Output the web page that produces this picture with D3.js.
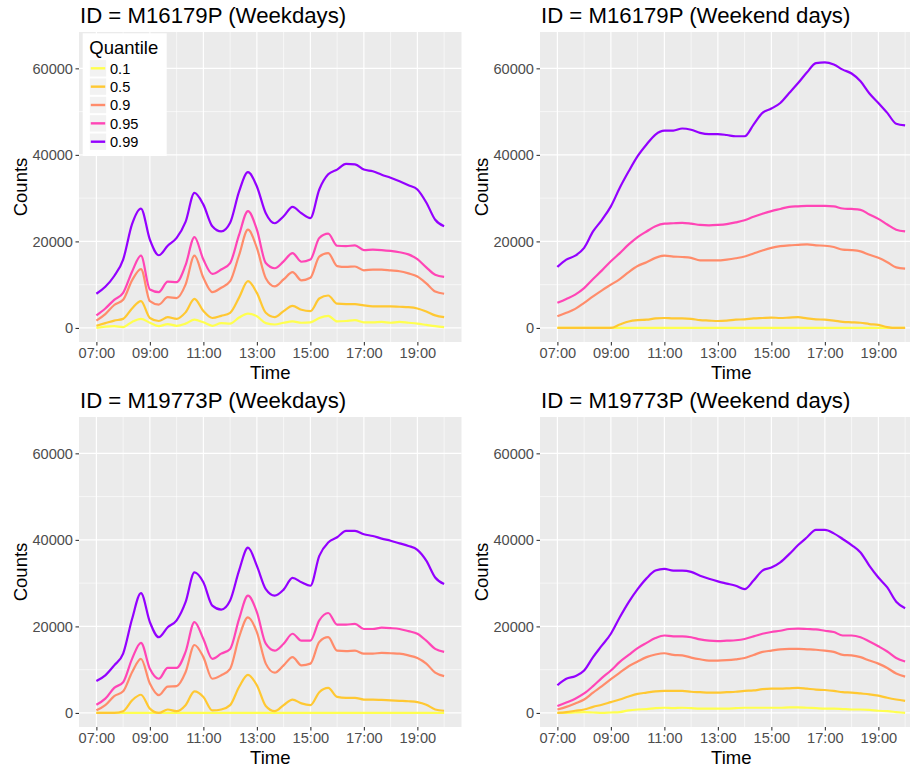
<!DOCTYPE html>
<html><head><meta charset="utf-8">
<script src="https://cdn.jsdelivr.net/npm/d3@7"></script>
<style>
body{margin:0;background:#fff}
svg{display:block}
text{font-family:"Liberation Sans",Arial,Helvetica,sans-serif}
</style>
</head><body>
<svg id="chart" width="910" height="768"></svg>
<script>
// ---------- DATA ----------
const times = ["07:00","07:20","07:40","08:00","08:20","08:40","09:00","09:20","09:40","10:00",
  "10:20","10:40","11:00","11:20","11:40","12:00","12:20","12:40","13:00","13:20",
  "13:40","14:00","14:20","14:40","15:00","15:20","15:40","16:00","16:20","16:40",
  "17:00","17:20","17:40","18:00","18:20","18:40","19:00","19:20","19:40","20:00"];
const quantiles = ["0.1","0.5","0.9","0.95","0.99"];
const xTickLabels = ["07:00","09:00","11:00","13:00","15:00","17:00","19:00"];
const xMinorLabels = ["08:00","10:00","12:00","14:00","16:00","18:00","20:00"];
const yTicks = [0,20000,40000,60000];
const yMinor = [10000,30000,50000];
const panelTitles = ["ID = M16179P (Weekdays)","ID = M16179P (Weekend days)",
  "ID = M19773P (Weekdays)","ID = M19773P (Weekend days)"];

// M16179P weekdays
const a10 = [0,300,400,200,1400,2100,1200,400,900,500,1000,1900,1300,500,1100,1000,2400,3300,2700,1100,800,1200,1500,1200,1300,2300,2800,1500,1600,1800,1300,1300,1400,1200,1400,1200,1000,700,400,200];
const a50 = [500,1100,1700,2100,4500,6200,2300,1600,2500,2100,3600,6700,3900,2300,2800,3500,7000,10800,8100,3500,2500,3900,5100,4200,3900,6800,7500,5600,5500,5500,5200,5000,5000,5000,4900,4800,4500,3800,2900,2500];
const a90 = [1700,3200,5300,6500,11000,13600,6200,5400,7100,6900,10000,16700,11600,8300,9300,10800,16800,22700,18500,11500,9600,11200,12900,11000,11600,16500,17300,14300,14100,14200,13300,13500,13500,13300,13100,12600,11900,10300,8400,7900];
const a95 = [2900,4500,6500,8100,13000,16700,8900,8300,10700,10600,14500,21000,15800,12500,13500,15000,21500,27000,22700,15000,13800,15400,17300,15300,15800,20800,21800,19000,18900,19100,18000,18100,18000,17800,17500,17000,15900,14000,12300,11800];
const a99 = [7900,9500,12000,15800,24000,27600,20400,16800,19000,20800,24500,31200,28500,23500,22300,24300,31500,36000,32700,26500,24200,25800,28000,26500,25400,32000,35500,36600,37900,37800,36600,36200,35400,34700,33900,33000,32000,29000,25000,23500];

// M16179P weekend days
const b10 = [0,0,0,0,0,0,0,0,0,0,0,0,0,0,0,0,0,0,0,0,0,0,0,0,0,0,0,0,0,0,0,0,0,0,0,0,0,0,0,0];
const b50 = [0,0,0,0,0,0,0,800,1500,1800,1900,2200,2300,2200,2200,2100,1800,1700,1600,1700,1900,2000,2200,2300,2400,2300,2400,2500,2200,2000,1900,1700,1400,1300,1200,900,700,200,0,0];
const b90 = [2700,3500,4400,5800,7300,8700,10000,11300,12900,14300,15200,16200,16700,16500,16400,16200,15600,15600,15600,15800,16100,16500,17200,17900,18500,18900,19100,19200,19300,19100,19000,18700,18100,18000,17700,16900,16200,15200,14000,13700];
const b95 = [5800,6700,7700,9200,11300,13300,15400,17300,19300,21000,22300,23500,24100,24200,24300,24100,23800,23700,23800,24000,24400,24900,25700,26400,27000,27500,28000,28100,28200,28200,28200,28100,27600,27500,27300,26200,25200,23900,22700,22300];
const b99 = [14100,15800,16700,18500,22300,25000,28100,32400,36200,39700,42400,44700,45600,45600,46100,45800,45100,44800,44800,44600,44300,44300,47000,49700,50700,52000,54300,56600,59100,61200,61400,60900,59700,58800,57000,54200,52000,49700,47200,46800];

// M19773P weekdays
const c10 = [0,0,0,0,0,0,0,0,0,0,0,0,0,0,0,0,0,0,0,0,0,0,0,0,0,0,0,0,0,0,0,0,0,0,0,0,0,0,0,0];
const c50 = [0,0,0,400,2900,4200,1000,0,800,400,1800,5000,3700,600,800,1800,6000,8800,6400,1600,400,1800,3100,2200,1800,4800,5800,3700,3500,3500,3100,3100,3000,2900,2800,2700,2500,1900,800,500];
const c90 = [600,1800,3900,5000,9400,12500,6800,4100,6100,6200,9400,15700,12900,7900,8700,10200,17500,22100,18700,11400,9300,11000,12900,11000,11400,16400,17500,14400,14300,14400,13700,13700,13900,13800,13700,13300,12700,11400,9300,8500];
const c95 = [1900,3300,5800,7100,12500,16200,10200,7900,10400,10400,14100,21000,17100,12500,13700,14800,21700,27100,23300,16000,14400,16000,18300,16700,16700,21400,23100,20400,20400,20600,19400,19400,19700,19600,19400,18900,18300,16700,14800,14100];
const c99 = [7400,8700,11000,13700,21700,27700,21000,17500,19800,21400,25600,32500,30200,24800,23900,26000,32900,38200,34000,28600,27100,28500,31200,30200,29400,36300,39400,40600,42100,42100,41300,40900,40300,39800,39200,38600,37700,35200,31300,29800];

// M19773P weekend days
const d10 = [0,0,100,200,100,0,100,200,600,800,900,1100,1200,1100,1200,1100,1000,1000,1000,1000,1100,1200,1200,1200,1200,1200,1300,1300,1200,1100,1000,1000,900,800,800,700,500,400,200,0];
const d50 = [0,200,500,800,1400,1900,2500,3100,3800,4400,4700,5000,5100,5100,5100,4900,4800,4700,4700,4800,4900,5100,5200,5500,5600,5600,5700,5800,5600,5400,5300,5100,4800,4700,4500,4300,4000,3500,3100,2800];
const d90 = [800,1400,2200,3100,4700,6200,7800,9300,10800,11900,12900,13500,13800,13400,13300,12800,12400,12100,12100,12200,12400,12700,13400,14100,14400,14700,14800,14800,14700,14600,14400,14100,13400,13300,12900,12100,11400,10400,9100,8400];
const d95 = [1600,2400,3300,4500,6200,8100,9800,11800,13400,15000,16200,17300,17900,17700,17700,17500,17000,16700,16600,16700,16800,17100,17700,18300,18700,19000,19400,19500,19400,19300,19000,18700,17900,17900,17500,16500,15400,14200,12700,11900];
const d99 = [6400,7900,8500,9800,12900,15600,18300,22100,25600,28600,31100,32900,33300,32900,32900,32600,31700,31000,30400,29900,29400,28600,30600,32900,33600,34800,36700,38800,40600,42300,42300,41500,40200,38800,37100,34000,31300,29000,25700,24200];

// ---------- STYLE ----------
const colors = ["#FFFF4F","#FFC832","#FF8C6B","#FF45B6","#9400FF"];

const panels = [
  {title: panelTitles[0], series: [a10,a50,a90,a95,a99], left: 79,  top: 32,  legend: true},
  {title: panelTitles[1], series: [b10,b50,b90,b95,b99], left: 540, top: 32,  legend: false},
  {title: panelTitles[2], series: [c10,c50,c90,c95,c99], left: 79,  top: 417, legend: false},
  {title: panelTitles[3], series: [d10,d50,d90,d95,d99], left: 540, top: 417, legend: false}
];

const W = 382.5, H = 310;
const parse = d3.timeParse("%H:%M");
const fmt = d3.timeFormat("%H:%M");
const tDates = times.map(parse);
const t0 = tDates[0], t1 = tDates[tDates.length - 1];
const pad = (t1 - t0) * 0.05;

const svg = d3.select("#chart");
svg.append("rect").attr("width", 910).attr("height", 768).attr("fill", "#fff");

panels.forEach(p => {
  const g = svg.append("g");
  const x = d3.scaleTime()
    .domain([new Date(+t0 - pad), new Date(+t1 + pad)])
    .range([p.left, p.left + W]);
  const y = d3.scaleLinear().domain([-3250, 68400]).range([p.top + H, p.top]);

  // panel background
  g.append("rect").attr("x", p.left).attr("y", p.top).attr("width", W).attr("height", H)
    .attr("fill", "#EBEBEB");

  // minor grid
  g.selectAll(".ymin").data(yMinor).enter().append("line")
    .attr("x1", p.left).attr("x2", p.left + W)
    .attr("y1", d => y(d)).attr("y2", d => y(d))
    .attr("stroke", "#fff").attr("stroke-width", 0.6);
  g.selectAll(".xmin").data(xMinorLabels.map(parse)).enter().append("line")
    .attr("y1", p.top).attr("y2", p.top + H)
    .attr("x1", d => x(d)).attr("x2", d => x(d))
    .attr("stroke", "#fff").attr("stroke-width", 0.6);
  // major grid
  g.selectAll(".ymaj").data(yTicks).enter().append("line")
    .attr("x1", p.left).attr("x2", p.left + W)
    .attr("y1", d => y(d)).attr("y2", d => y(d))
    .attr("stroke", "#fff").attr("stroke-width", 1.15);
  g.selectAll(".xmaj").data(xTickLabels.map(parse)).enter().append("line")
    .attr("y1", p.top).attr("y2", p.top + H)
    .attr("x1", d => x(d)).attr("x2", d => x(d))
    .attr("stroke", "#fff").attr("stroke-width", 1.15);

  // lines
  const line = d3.line()
    .x((d, i) => x(tDates[i]))
    .y(d => y(d))
    .curve(d3.curveMonotoneX);
  p.series.forEach((s, k) => {
    g.append("path").datum(s).attr("d", line)
      .attr("fill", "none").attr("stroke", colors[k])
      .attr("stroke-width", 2.2).attr("stroke-linejoin", "round");
  });

  // axes
  const ya = g.append("g").attr("transform", `translate(${p.left},0)`)
    .call(d3.axisLeft(y).tickValues(yTicks).tickSize(3.5).tickPadding(2.5).tickFormat(d3.format("d")));
  ya.select(".domain").remove();
  ya.selectAll(".tick line").attr("stroke", "#333").attr("stroke-width", 1.07);
  ya.selectAll(".tick text").attr("fill", "#4D4D4D").style("font-size", "14.6px")
    .style("font-family", '"Liberation Sans",Arial,sans-serif');

  const xa = g.append("g").attr("transform", `translate(0,${p.top + H})`)
    .call(d3.axisBottom(x).tickValues(xTickLabels.map(parse)).tickSize(3.5).tickPadding(2.5).tickFormat(fmt));
  xa.select(".domain").remove();
  xa.selectAll(".tick line").attr("stroke", "#333").attr("stroke-width", 1.07);
  xa.selectAll(".tick text").attr("fill", "#4D4D4D").style("font-size", "14.6px")
    .style("font-family", '"Liberation Sans",Arial,sans-serif');

  // titles
  g.append("text").attr("x", p.left + 1).attr("y", p.top - 9.5)
    .style("font-size", "22.2px").attr("fill", "#000").text(p.title);
  g.append("text").attr("x", p.left + W / 2).attr("y", p.top + H + 37)
    .attr("text-anchor", "middle").style("font-size", "18.5px").attr("fill", "#000").text("Time");
  g.append("text").attr("transform", `translate(${p.left - 52.5},${p.top + H / 2}) rotate(-90)`)
    .attr("text-anchor", "middle").style("font-size", "18.5px").attr("fill", "#000").text("Counts");

  // legend
  if (p.legend) {
    const lg = g.append("g");
    lg.append("rect").attr("x", 82.7).attr("y", 33.3).attr("width", 84).attr("height", 122.7)
      .attr("fill", "#fff");
    lg.append("text").attr("x", 89.3).attr("y", 54).style("font-size", "18.5px")
      .attr("fill", "#000").text("Quantile");
    quantiles.forEach((q, k) => {
      const cy = 68.3 + k * 18.35;
      lg.append("rect").attr("x", 89.3).attr("y", cy - 8.7).attr("width", 17.4).attr("height", 17.4)
        .attr("fill", "#F2F2F2").attr("stroke", "#fff").attr("stroke-width", 1);
      lg.append("line").attr("x1", 90.8).attr("x2", 105.2).attr("y1", cy).attr("y2", cy)
        .attr("stroke", colors[k]).attr("stroke-width", 2.4);
      lg.append("text").attr("x", 110).attr("y", cy + 5.2).style("font-size", "14.6px")
        .attr("fill", "#000").text(q);
    });
  }
});
</script>
</body></html>
